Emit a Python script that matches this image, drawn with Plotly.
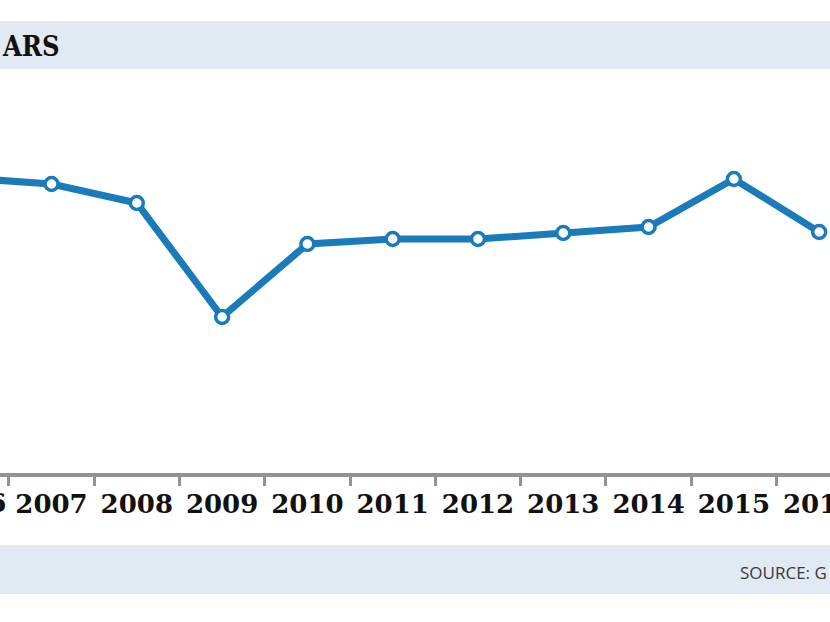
import plotly.graph_objects as go

years = [2006, 2007, 2008, 2009, 2010, 2011, 2012, 2013, 2014, 2015, 2016]
values = [295, 289, 270, 156, 229, 234, 234, 240, 246, 294, 241]
tick_labels = [str(y) for y in years]
title_text = "ARS"
source_text = "SOURCE: G"

BLUE = "#1a7bbb"
BAND = "#e1e9f2"
X0, X1 = 2006.396, 2016.127
H, T, B = 622, 70, 149
PH = H - T - B


def py(pix):
    return (H - pix - B) / PH


def px_of_year(yr):
    return (yr - X0) / (X1 - X0)


fig = go.Figure()
fig.add_trace(go.Scatter(
    x=years, y=values, mode="lines+markers",
    line=dict(color=BLUE, width=7),
    marker=dict(size=13, color="white", line=dict(color=BLUE, width=3.5)),
    cliponaxis=True, showlegend=False,
))

label_font = dict(family="DejaVu Serif", size=26, color="#111111", weight="bold")

fig.update_layout(
    width=830, height=622,
    margin=dict(l=0, r=0, t=T, b=B, autoexpand=False),
    paper_bgcolor="white", plot_bgcolor="white",
    xaxis=dict(
        range=[X0, X1], automargin=False,
        tickvals=years, ticktext=tick_labels,
        ticks="", showgrid=False, zeroline=False,
        showline=True, linecolor="#939393", linewidth=4,
        tickfont=label_font,
        ticklabelstandoff=5,
        ticklabeloverflow="allow",
        minor=dict(tickvals=[y + 0.5 for y in range(2005, 2017)], ticks="outside",
                   ticklen=9, tickwidth=3, tickcolor="#939393", showgrid=False),
    ),
    yaxis=dict(range=[0, PH], visible=False, showgrid=False, zeroline=False, automargin=False),
    shapes=[
        dict(type="rect", xref="paper", yref="paper", x0=0, x1=1,
             y0=py(69), y1=py(21),
             fillcolor=BAND, line=dict(width=0), layer="below"),
        dict(type="rect", xref="paper", yref="paper", x0=0, x1=1,
             y0=py(594), y1=py(545),
             fillcolor=BAND, line=dict(width=0), layer="below"),
    ],
    annotations=[
        dict(text="<b>" + title_text + "</b>", xref="paper", yref="paper",
             x=0, y=py(46), xanchor="left", yanchor="middle",
             showarrow=False, font=dict(family="DejaVu Serif Condensed, DejaVu Serif", size=27, color="#111111")),
        dict(text=source_text, xref="paper", yref="paper",
             x=738 / 830, y=py(572), xanchor="left", yanchor="middle",
             showarrow=False, font=dict(family="Open Sans", size=17, color="#3a3a3a")),
        dict(text="<b>" + tick_labels[0] + "</b>", xref="paper", yref="paper",
             x=px_of_year(years[0]) + 4 / 830, y=py(503), xanchor="center", yanchor="middle",
             showarrow=False, font=dict(family="DejaVu Serif", size=26, color="#111111")),
    ],
)

fig.write_html("out.html", config={"displayModeBar": False},
               post_script="document.body.style.margin='0';")
